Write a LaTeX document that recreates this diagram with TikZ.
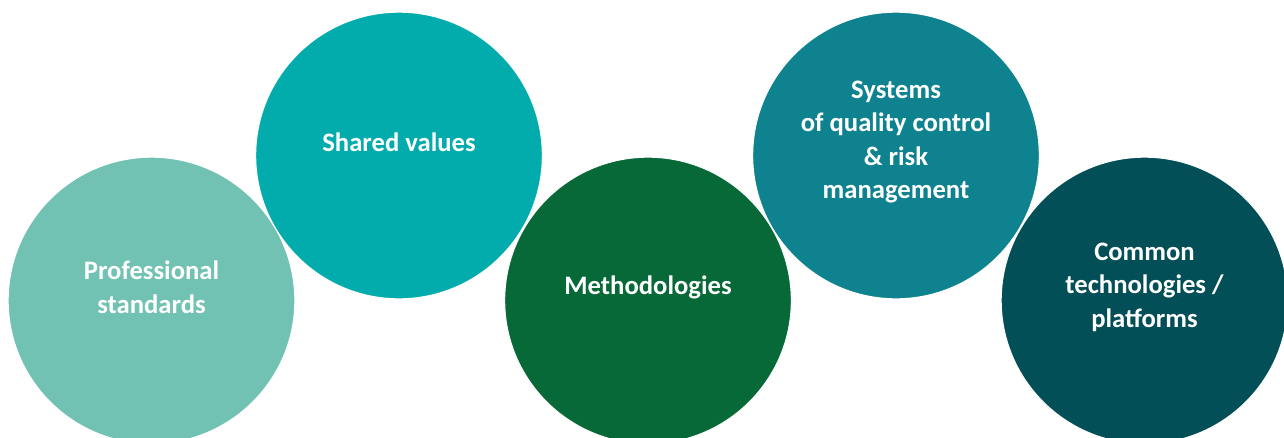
\documentclass[tikz,border=0pt]{standalone}
\usepackage{fontspec}
\setmainfont{Carlito}
\definecolor{profcol}{HTML}{72C2B3}
\definecolor{sharedcol}{HTML}{03ACAC}
\definecolor{methcol}{HTML}{076937}
\definecolor{syscol}{HTML}{0E838F}
\definecolor{commoncol}{HTML}{034F58}
\tikzset{
  bubble/.style={circle, draw=white, line width=0.8pt, minimum size=215pt, inner sep=0pt},
  caption/.style={text=white, font=\bfseries\fontsize{20pt}{25pt}\selectfont, align=center, yshift=10pt}
}
\begin{document}
\begin{tikzpicture}[x=0.75pt,y=-0.75pt]
      \useasboundingbox (0,0) rectangle (1284,438);
      \clip (0,0) rectangle (1284,438);
      \draw
        (151.5,300.5) node[bubble,fill=profcol] (prof){}
        (648,300.5) node[bubble,fill=methcol] (meth){}
        (1144.5,300.5) node[bubble,fill=commoncol] (common){}
        (399,155.5) node[bubble,fill=sharedcol] (shared){}
        (896,155.5) node[bubble,fill=syscol] (sys){};
      \begin{scope}
        \node[caption] (proftext) at (prof) {Professional\\standards};
        \node[caption] (sharedtext) at (shared) {Shared values};
        \node[caption] (methtext) at (meth) {Methodologies};
        \node[caption] (systext) at (sys) {Systems\\of quality control\\\& risk\\management};
        \node[caption] (commontext) at (common) {Common\\technologies /\\platforms};
      \end{scope}
    \end{tikzpicture}
\end{document}
